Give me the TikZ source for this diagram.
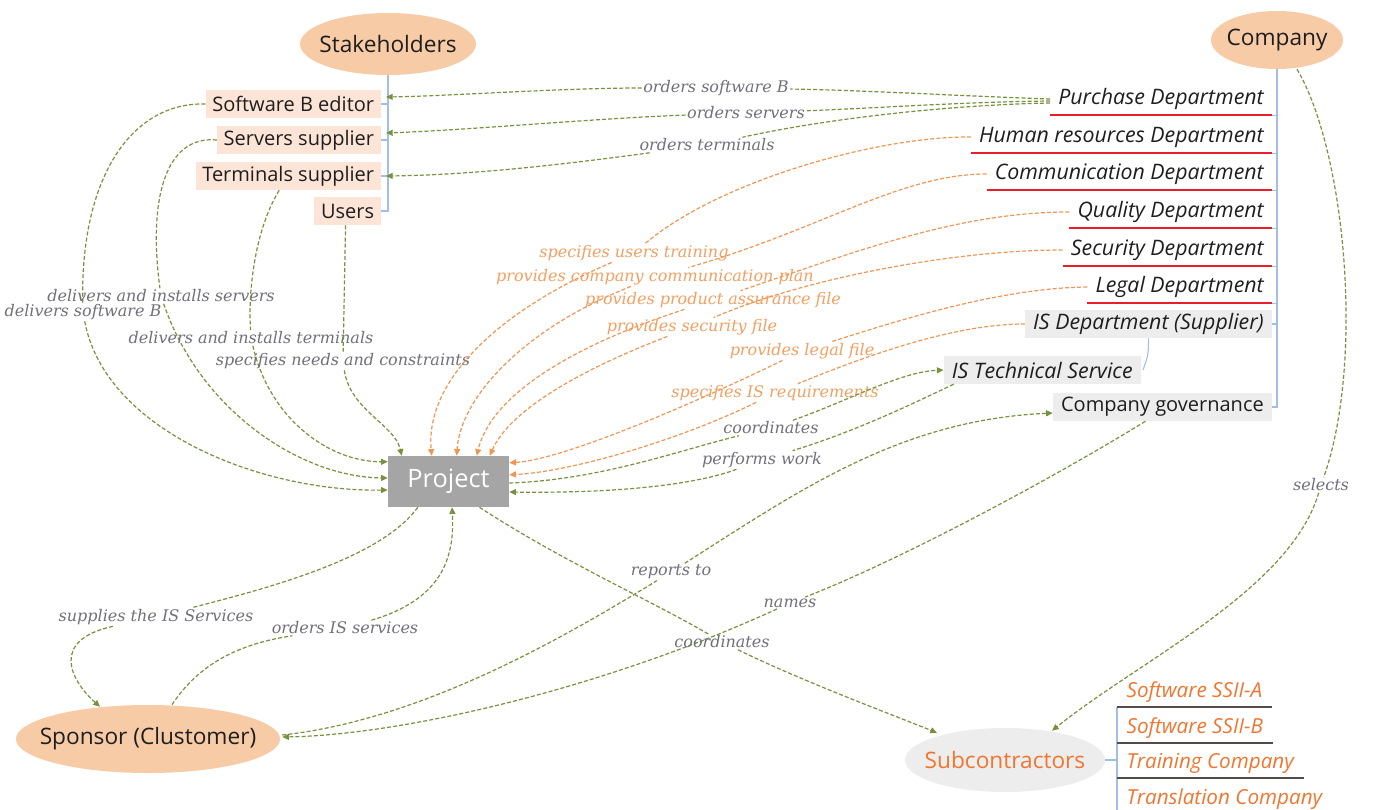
\documentclass[tikz,border=0pt]{standalone}
\usepackage{fontspec}
\newfontfamily\osans{Open Sans}
\newfontfamily\lblfont{DejaVu Serif}
\usetikzlibrary{arrows.meta,shapes.geometric,calc}

\definecolor{peach}{RGB}{248,203,167}
\definecolor{peachlt}{RGB}{252,229,214}
\definecolor{boxgray}{RGB}{237,237,237}
\definecolor{projgray}{RGB}{165,165,165}
\definecolor{lgreen}{RGB}{118,146,62}
\definecolor{lorange}{RGB}{240,150,82}
\definecolor{tlorange}{RGB}{242,160,98}
\definecolor{tgray}{RGB}{112,112,122}
\definecolor{ulred}{RGB}{232,30,40}
\definecolor{suborange}{RGB}{240,118,48}
\definecolor{treeblue}{RGB}{160,190,232}
\definecolor{txt}{RGB}{30,30,30}
\definecolor{subline}{RGB}{85,75,75}

\begin{document}
\begin{tikzpicture}[x=0.75pt,y=-0.75pt,
  hub/.style={ellipse, fill=peach, text=txt, font=\osans\fontsize{17}{20}\selectfont, inner sep=0pt},
  leaf/.style={fill=peachlt, text=txt, font=\osans\fontsize{15}{18}\selectfont, minimum height=21pt, inner xsep=5pt, inner ysep=0pt, anchor=east},
  dept/.style={text=txt, font=\osans\itshape\fontsize{16}{19}\selectfont, minimum height=24pt, inner xsep=6pt, inner ysep=0pt, anchor=east},
  graybox/.style={fill=boxgray, text=txt, font=\osans\fontsize{15}{18}\selectfont, minimum height=21pt, inner xsep=6pt, inner ysep=0pt, anchor=east},
  grayit/.style={graybox, font=\osans\itshape\fontsize{16}{19}\selectfont},
  subitem/.style={text=suborange, font=\osans\itshape\fontsize{15.5}{18}\selectfont, minimum height=22.5pt, inner xsep=7pt, inner ysep=0pt, anchor=west},
  lbl/.style={font=\lblfont\itshape\fontsize{12}{14}\selectfont, text=tgray, inner sep=1pt},
  olbl/.style={lbl, text=tlorange},
  gconn/.style={draw=lgreen, line width=0.9pt, dash pattern=on 3pt off 1.6pt},
  oconn/.style={draw=lorange, line width=0.9pt, dash pattern=on 3pt off 1.6pt},
  garr/.style={gconn, -{Triangle[length=5pt,width=4.5pt]}},
  oarr/.style={oconn, -{Triangle[length=5pt,width=4.5pt]}},
  tree/.style={draw=treeblue, line width=0.8pt},
  redul/.style={draw=ulred, line width=1.6pt},
  subul/.style={draw=subline, line width=1.4pt}
]
\fill[white] (0,0) rectangle (1389,810);
\useasboundingbox (0,0) rectangle (1389,810);

% ---------- main nodes ----------
\node[hub, minimum width=132pt, minimum height=46.5pt] (stake) at (388,44) {\makebox[0pt]{Stakeholders}};
\node[hub, minimum width=99pt, minimum height=43.5pt] (company) at (1277,40) {\makebox[0pt]{Company}};
\node[hub, minimum width=198pt, minimum height=51pt] (sponsor) at (148,739) {\makebox[0pt]{Sponsor (Clustomer)}};
\node[hub, fill=boxgray, text=suborange, minimum width=150pt, minimum height=48pt] (subc) at (1005,760) {\makebox[0pt]{Subcontractors}};
\node[fill=projgray, text=white, font=\osans\fontsize{19}{22}\selectfont, minimum width=90.75pt, minimum height=38.25pt, inner sep=0pt] (project) at (448.5,481.5) {Project};

% ---------- stakeholders ----------
\node[leaf] (swb) at (381,104) {Software B editor};
\node[leaf] (srv) at (381,140) {Servers supplier};
\node[leaf] (trm) at (381,176) {Terminals supplier};
\node[leaf] (usr) at (381,211) {Users};
\draw[tree] (stake.south) -- (stake.south |- usr.east) -- (usr.east);
\foreach \n in {swb,srv,trm} \draw[tree] (\n.east) -- (\n.east -| stake.south);

% ---------- company ----------
\node[dept] (pur) at (1272,99) {Purchase Department};
\node[dept] (hr) at (1272,137) {Human resources Department};
\node[dept] (comm) at (1272,174) {Communication Department};
\node[dept] (qual) at (1272,212) {Quality Department};
\node[dept] (sec) at (1272,250) {Security Department};
\node[dept] (legal) at (1272,287) {Legal Department};
\node[grayit] (isd) at (1272,324) {IS Department (Supplier)};
\node[grayit] (ist) at (1141,370) {IS Technical Service};
\node[graybox] (gov) at (1272,407) {Company governance};
\draw[tree] (company.south) -- (company.south |- gov.east) -- (gov.east);
\foreach \n in {pur,hr,comm,qual,sec,legal} {
  \draw[tree] (\n.south east) -- (\n.south east -| company.south);
  \draw[redul] (\n.south west) -- (\n.south east);
}
\draw[tree] (isd.east) -- (isd.east -| company.south);
\draw[tree] (isd.south) .. controls ($(isd.south)+(0,16)$) .. ($(ist.east)+(2,0)$);

% ---------- subcontractors ----------
\node[subitem] (sa) at (1117,692) {Software SSII-A};
\node[subitem] (sb) at (1117,728) {Software SSII-B};
\node[subitem] (tc) at (1117,763) {Training Company};
\node[subitem] (tr) at (1117,799) {Translation Company};
\coordinate (subbot) at (1117,816);
\draw[tree] (sa.south west) -- (subbot);
\draw[tree] (subc.east) -- (subc.east -| sa.south west);
\foreach \n in {sa,sb,tc,tr} \draw[subul] (\n.south west) -- (\n.south east);

% ---------- purchase orders ----------
\node[lbl] (losb) at (716,88) {orders software B};
\draw[gconn] (pur.west) .. controls (960,96) and (860,90) .. (losb);
\draw[garr] (losb) .. controls (560,88) and (450,96) .. ($(swb.east)+(5,-7)$);

\node[lbl] (los) at (746,113) {orders servers};
\draw[gconn] ($(pur.west)+(0,2)$) .. controls (960,102) and (880,108) .. (los);
\draw[garr] (los) .. controls (600,118) and (470,130) .. ($(srv.east)+(5,-7)$);

\node[lbl] (lot) at (707,145) {orders terminals};
\draw[gconn] ($(pur.west)+(0,4)$) .. controls (950,105) and (830,118) .. (lot);
\draw[garr] (lot) .. controls (560,165) and (470,175) .. ($(trm.east)+(5,0)$);

% ---------- stakeholders to project ----------
\node[lbl] (ldsb) at (83,312) {delivers software B};
\draw[gconn] (swb.west) .. controls (130,102) and (80,180) .. (ldsb);
\draw[garr] (ldsb) .. controls (105,430) and (260,492) .. ($(project.west)+(0,8.5)$);

\node[lbl] (ldis) at (161,296) {delivers and installs servers};
\draw[gconn] (srv.west) .. controls (165,135) and (148,200) .. (ldis);
\draw[garr] (ldis) .. controls (200,410) and (300,477) .. ($(project.west)+(0,-3.5)$);

\node[lbl] (ldit) at (251,338) {delivers and installs terminals};
\draw[gconn] ($(trm.south)+(-9,0)$) .. controls (255,230) and (248,290) .. (ldit);
\draw[garr] (ldit) .. controls (270,420) and (330,462) .. ($(project.north west)+(0,6)$);

\node[lbl] (lsnc) at (343,361) {specifies needs and constraints};
\draw[gconn] ($(usr.south)+(-2,0)$) -- (lsnc);
\draw[garr] (lsnc) .. controls (350,410) and (395,425) .. ($(project.north west)+(14,0)$);

% ---------- departments to project ----------
\node[olbl] (lsut) at (634,253) {specifies users training};
\draw[oconn] (hr.west) .. controls (880,136) and (720,180) .. (lsut);
\draw[oarr] (lsut) .. controls (500,310) and (425,380) .. ($(project.north west)+(44,0)$);

\node[olbl] (lpcc) at (655,277) {provides company communication plan};
\draw[oconn] (comm.west) .. controls (900,174) and (820,230) .. (lpcc);
\draw[oarr] (lpcc) .. controls (520,330) and (460,400) .. ($(project.north west)+(69,0)$);

\node[olbl] (lppa) at (713,300) {provides product assurance file};
\draw[oconn] (qual.west) .. controls (960,212) and (860,250) .. (lppa);
\draw[oarr] (lppa) .. controls (560,350) and (490,400) .. ($(project.north west)+(89,0)$);

\node[olbl] (lpsf) at (692,327) {provides security file};
\draw[oconn] (sec.west) .. controls (950,250) and (800,280) .. (lpsf);
\draw[oarr] (lpsf) .. controls (580,370) and (510,410) .. ($(project.north west)+(102,0)$);

\node[olbl] (lplf) at (802,351) {provides legal file};
\draw[oconn] (legal.west) .. controls (1000,288) and (900,320) .. (lplf);
\draw[oarr] (lplf) .. controls (680,410) and (560,460) .. ($(project.north east)+(0,7)$);

\node[olbl] (lsis) at (775,393) {specifies IS requirements};
\draw[oconn] (isd.west) .. controls (960,324) and (880,350) .. (lsis);
\draw[oarr] (lsis) .. controls (680,440) and (570,472) .. ($(project.north east)+(0,19)$);

% ---------- IS technical service ----------
\node[lbl] (lco1) at (771,428) {coordinates};
\draw[gconn] ($(project.east)+(0,1.5)$) .. controls (600,480) and (680,450) .. (lco1);
\draw[garr] (lco1) .. controls (850,400) and (900,372) .. (ist.west);

\node[lbl] (lpw) at (762,460) {performs work};
\draw[gconn] ($(ist.south west)+(10,0)$) .. controls (920,400) and (860,430) .. (lpw);
\draw[garr] (lpw) .. controls (680,490) and (580,493) .. ($(project.east)+(0,10.5)$);

% ---------- governance ----------
\node[lbl] (lrt) at (671,572) {reports to};
\draw[gconn] ($(sponsor.east)+(2,-4)$) .. controls (420,720) and (560,640) .. (lrt);
\draw[garr] (lrt) .. controls (800,490) and (900,420) .. ($(gov.west)+(0,6)$);

\node[lbl] (lnm) at (790,603) {names};
\draw[gconn] ($(gov.south)+(-17,0)$) .. controls (1050,480) and (900,560) .. (lnm);
\draw[garr] (lnm) .. controls (600,690) and (400,735) .. ($(sponsor.east)+(2,-2)$);

% ---------- subcontractors links ----------
\node[lbl] (lco2) at (722,642) {coordinates};
\draw[gconn] ($(project.south)+(31,0)$) .. controls (560,560) and (650,600) .. (lco2);
\draw[garr] (lco2) .. controls (800,680) and (880,710) .. ($(subc.north)+(-68,5)$);

\node[lbl] (lsel) at (1321,485) {selects};
\draw[gconn] ($(company.south)+(20,0)$) .. controls (1345,150) and (1365,360) .. (lsel);
\draw[garr] (lsel) .. controls (1290,590) and (1140,660) .. ($(subc.north)+(47,3)$);

% ---------- sponsor ----------
\node[lbl] (lsup) at (156,617) {supplies the IS Services};
\draw[gconn] ($(project.south west)+(30,0)$) .. controls (380,560) and (260,590) .. (lsup);
\draw[garr] (lsup) .. controls (50,640) and (70,680) .. ($(sponsor.north)+(-48,2)$);

\node[lbl] (lois) at (345,628) {orders IS services};
\draw[gconn] ($(sponsor.north)+(24,0)$) .. controls (195,670) and (230,645) .. (lois);
\draw[garr] (lois) .. controls (440,600) and (455,560) .. ($(project.south)+(3.5,0)$);
\end{tikzpicture}
\end{document}
